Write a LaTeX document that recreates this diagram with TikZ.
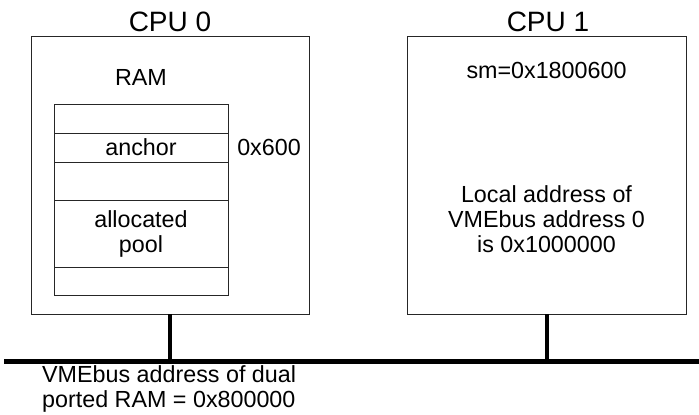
\documentclass[tikz,border=0pt]{standalone}
\usepackage{fontspec}
\setmainfont{Liberation Sans}
\begin{document}
\begin{tikzpicture}[x=1bp,y=-1bp,
  body/.style={font=\fontsize{23.3bp}{25bp}\selectfont, inner sep=0pt, align=center},
  title/.style={font=\fontsize{28bp}{30bp}\selectfont, inner sep=0pt},
  cpubox/.style={draw=black!85, line width=0.9bp, minimum width=#1, minimum height=278bp, inner sep=0pt},
  row/.style={draw=black!85, line width=0.9bp, minimum width=174bp, minimum height=#1, inner sep=0pt, align=center,
    font=\fontsize{23.3bp}{25bp}\selectfont},
  stem/.style={line width=4bp},
  busline/.style={line width=5bp}]
\useasboundingbox (0,0) rectangle (699,414);
% CPU boxes
\node[cpubox=278bp] (cpu0) at (170,175) {};
\node[cpubox=279bp] (cpu1) at (546.5,175) {};
\node[title, anchor=base] (t0) at (170,31) {CPU 0};
\node[title, anchor=base] (t1) at (548,31) {CPU 1};
% RAM stack
\node[body] (ramlbl) at (141,77) {RAM};
\node[row=29bp] (r1) at (141,118.5) {};
\node[row=29bp] (r2) at (141,147.5) {anchor};
\node[row=38bp] (r3) at (141,181) {};
\node[row=67bp] (r4) at (141,233.5) {allocated\\pool};
\node[row=28bp] (r5) at (141,281) {};
\node[body] (addr) at (269,147.5) {0x600};
% CPU 1 texts
\node[body] (sm) at (546.5,70) {sm=0x1800600};
\node[body, anchor=base] (loc) at (546.5,252) {Local address of\\VMEbus address 0\\is 0x1000000};
% bus
\coordinate (busL) at (4,361);
\coordinate (busR) at (699,361);
\draw[busline] (busL) -- (busR);
\draw[stem] (cpu0.south) -- (cpu0.south |- busL);
\draw[stem] (cpu1.south) -- (cpu1.south |- busL);
\node[body, align=left, anchor=base west] (buslbl) at (42,407.5) {VMEbus address of dual\\ported RAM = 0x800000};
\end{tikzpicture}
\end{document}
